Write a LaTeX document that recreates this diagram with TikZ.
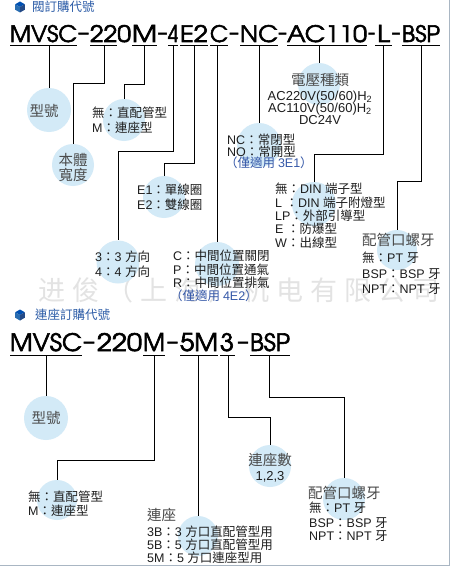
\documentclass[tikz,border=0pt]{standalone}
\usepackage{fontspec}
\usepackage{graphicx}
\setmainfont{Liberation Sans}
\newfontfamily\zhf{Noto Sans CJK TC}
\newfontfamily\wmf{Noto Sans CJK SC}
\IfFontExistsTF{texgyreadventor-regular.otf}
  {\newfontfamily\codefont[FakeBold=2.5]{texgyreadventor-regular.otf}}
  {\newfontfamily\codefont{Poppins}}
\newcommand\zh[1]{{\zhf #1}}
\newcommand\wsp{\hspace{7pt}}
\definecolor{cblue}{HTML}{D3EAF7}
\definecolor{txtc}{HTML}{1E1E1E}
\definecolor{ttlc}{HTML}{4A4A4A}
\definecolor{blu}{HTML}{3558A8}
\definecolor{hdr}{HTML}{2D5DA8}
\definecolor{bordc}{HTML}{A9B6C3}
\begin{document}
\begin{tikzpicture}[x=1pt,y=-1pt,
  seg/.style={anchor=base west, inner sep=0pt, outer sep=0pt},
  dsh/.style={anchor=base, inner sep=0pt, font=\codefont\fontsize{24}{24}\selectfont},
  uline/.style={line width=1pt, draw=black},
  conn/.style={line width=1pt, draw=black},
  bub/.style={circle, fill=cblue, draw=none, inner sep=0pt, minimum size=#1},
  bub/.default=43pt,
  lbl/.style={anchor=base west, inner sep=0pt, text=txtc, font=\fontsize{12.5}{14}\selectfont},
  ac/.style={anchor=base, inner sep=0pt, text=txtc, font=\fontsize{13}{14}\selectfont},
  ttl/.style={anchor=base, inner sep=0pt, text=ttlc, font=\zhf\fontsize{14.5}{16}\selectfont},
  ttlw/.style={ttl, anchor=base west},
  hdrtxt/.style={anchor=base west, inner sep=0pt, text=hdr, font=\zhf\fontsize{12.5}{14}\selectfont},
  wm/.style={anchor=base west, inner sep=0pt, text=black!11, font=\wmf\fontsize{27}{28}\selectfont},
]
\useasboundingbox (0,0) rectangle (455,567);
\fill[white] (0,0) rectangle (455,567);

% watermark
\node[wm] (wm) at (38,300) {进\wsp 俊\wsp （\wsp 上\wsp 海\wsp ）\wsp 机\wsp 电\wsp 有\wsp 限\wsp 公\wsp 司};

% border
\draw[bordc, line width=1pt] (449,0) -- (449,565.5) -- (0,565.5);

% header icons
\foreach \cy/\nm in {7/i1, 315/i2} {
  \fill[blue!55!cyan!70!black] (20,\cy-5.5) -- (24.8,\cy-2.75) -- (20,\cy) -- (15.2,\cy-2.75) -- cycle;
  \fill[hdr!90!cyan] (15.2,\cy-2.75) -- (20,\cy) -- (20,\cy+5.5) -- (15.2,\cy+2.75) -- cycle;
  \fill[hdr!80!black] (20,\cy) -- (24.8,\cy-2.75) -- (24.8,\cy+2.75) -- (20,\cy+5.5) -- cycle;
}
\node[hdrtxt] (h1) at (32,11.5) {閥訂購代號};
\node[hdrtxt] (h2) at (35,319.5) {連座訂購代號};

% ---------- first code ----------
\node[seg] (s1a) at (10,42) {\resizebox{67pt}{17pt}{\codefont MVSC}};
\node[dsh] (d1a) at (83.5,40) {\scalebox{0.8}[1]{–}};
\node[seg] (s1b) at (90,42) {\resizebox{41pt}{17pt}{\codefont 220}};
\node[seg] (s1c) at (132,42) {\resizebox{25pt}{17pt}{\codefont M}};
\node[dsh] (d1b) at (162.5,40) {\scalebox{0.7}[1]{–}};
\node[seg] (s1d) at (168,42) {\resizebox{10pt}{17pt}{\codefont 4}};
\node[seg] (s1e) at (180,42) {\resizebox{28pt}{17pt}{\codefont E2}};
\node[seg] (s1f) at (210,42) {\resizebox{18pt}{17pt}{\codefont C}};
\node[dsh] (d1c) at (234,40) {\scalebox{0.7}[1]{–}};
\node[seg] (s1g) at (240,42) {\resizebox{38pt}{17pt}{\codefont NC}};
\node[dsh] (d1d) at (282.5,40) {\scalebox{0.6}[1]{–}};
\node[seg] (s1h) at (287,42) {\resizebox{80pt}{17pt}{\codefont AC110}};
\node[dsh] (d1e) at (371.5,40) {\scalebox{0.5}[1]{–}};
\node[seg] (s1i) at (377,42) {\resizebox{13pt}{17pt}{\codefont L}};
\node[dsh] (d1f) at (396,40) {\scalebox{0.6}[1]{–}};
\node[seg] (s1j) at (402,42) {\resizebox{38pt}{17pt}{\codefont BSP}};

\foreach \a/\b in {10/77, 90/117, 132/157, 168/178, 180/208, 210/228, 240/278, 287/367, 375/392, 402/440}
  \draw[uline] (\a,46) -- (\b,46);

\coordinate (t1) at (49,46);
\coordinate (t2) at (104,46);
\coordinate (t3) at (144,46);
\coordinate (t4) at (173,46);
\coordinate (t5) at (194,46);
\coordinate (t6) at (217,46);
\coordinate (t7) at (259,46);
\coordinate (t8) at (319,46);
\coordinate (t9) at (383,46);
\coordinate (t10) at (421,46);

% ---------- second code ----------
\node[seg] (s2a) at (10,351) {\resizebox{72pt}{18pt}{\codefont MVSC}};
\node[dsh] (d2a) at (89,349) {\scalebox{0.85}[1]{–}};
\node[seg] (s2b) at (97,351) {\resizebox{45pt}{18pt}{\codefont 220}};
\node[seg] (s2c) at (143,351) {\resizebox{22pt}{18pt}{\codefont M}};
\node[dsh] (d2b) at (172.5,349) {\scalebox{0.8}[1]{–}};
\node[seg] (s2d) at (180,351) {\resizebox{38pt}{18pt}{\codefont 5M}};
\node[seg] (s2e) at (220,351) {\resizebox{14pt}{18pt}{\codefont 3}};
\node[dsh] (d2c) at (243,349) {\scalebox{0.8}[1]{–}};
\node[seg] (s2f) at (250,351) {\resizebox{40pt}{18pt}{\codefont BSP}};

\foreach \a/\b in {10/82, 143/165, 180/218, 220/235, 250/290}
  \draw[uline] (\a,355) -- (\b,355);

\coordinate (u1) at (46,355);
\coordinate (u2) at (154,355);
\coordinate (u3) at (198,355);
\coordinate (u4) at (228,355);
\coordinate (u5) at (269,355);

% ---------- bubbles ----------
\node[bub=44pt] (c1) at (49,110) {};
\node[bub=42pt] (c2) at (73,165) {};
\node[bub=42pt] (c3) at (124,120) {};
\node[bub=43pt] (c4) at (118,262) {};
\node[bub=42pt] (c5) at (164,197) {};
\node[bub=44pt] (c6) at (217,264) {};
\node[bub=44pt] (c7) at (259,145) {};
\node[bub=42pt] (c8) at (319,84) {};
\node[bub=44pt] (c9) at (314,204) {};
\node[bub=40pt] (c10) at (397,250) {};
\node[bub=44pt] (c11) at (46,418) {};
\node[bub=40pt] (c12) at (57,500) {};
\node[bub=40pt] (c13) at (198,536) {};
\node[bub=42pt] (c14) at (270,466) {};
\node[bub=42pt] (c15) at (344,499) {};

% ---------- connectors ----------
\draw[conn] (t1) -- (c1);
\draw[conn] (t2) -- ++(0,38) -| (c2);
\draw[conn] (t3) -- ++(0,39) -| (c3);
\draw[conn] (t4) -- ++(0,105) -| (c4);
\draw[conn] (t5) -- ++(0,117) -| (c5);
\draw[conn] (t6) -- (c6);
\draw[conn] (t7) -- (c7);
\draw[conn] (t8) -- (c8);
\draw[conn] (t9) -- ++(0,108) -| (c9);
\draw[conn] (t10) -- ++(0,135) -| (c10);
\draw[conn] (u1) -- (c11);
\draw[conn] (u2) -- ++(0,105) -| (c12);
\draw[conn] (u3) -- (c13);
\draw[conn] (u4) -- ++(0,62) -| (c14);
\draw[conn] (u5) -- ++(0,42) -| (c15);

% ---------- texts, top ----------
\node[ttl] (k1) at (44,117) {型號};
\node[ttl] (k2a) at (73,165.5) {本體};
\node[ttl] (k2b) at (73,180.5) {寬度};
\node[lbl] (k3a) at (92,117.5) {\zh{無：直配管型}};
\node[lbl] (k3b) at (92,132.5) {M\zh{：連座型}};
\node[lbl] (k4a) at (95,261.5) {3\zh{：}3 \zh{方向}};
\node[lbl] (k4b) at (95,276.5) {4\zh{：}4 \zh{方向}};
\node[lbl] (k5a) at (137,194.5) {E1\zh{：單線圈}};
\node[lbl] (k5b) at (137,209.5) {E2\zh{：雙線圈}};
\node[lbl] (k6a) at (173,260.5) {C\zh{：中間位置關閉}};
\node[lbl] (k6b) at (173,274.5) {P\zh{：中間位置通氣}};
\node[lbl] (k6c) at (173,287.5) {R\zh{：中間位置排氣}};
\node[lbl, text=blu] (k6d) at (170,300.5) {\zh{（僅適用 }4E2\zh{）}};
\node[lbl] (k7a) at (227,144) {NC\zh{：常閉型}};
\node[lbl] (k7b) at (227,156) {NO\zh{：常開型}};
\node[lbl, text=blu] (k7c) at (225,167.5) {\zh{（僅適用 }3E1\zh{）}};
\node[ttl] (k8a) at (320,85.5) {電壓種類};
\node[ac] (k8b) at (320,100.5) {AC220V(50/60)H\textsubscript{2}};
\node[ac] (k8c) at (320,112.5) {AC110V(50/60)H\textsubscript{2}};
\node[ac] (k8d) at (320,124.5) {DC24V};
\node[lbl] (k9a) at (275,193.5) {\zh{無：}DIN \zh{端子型}};
\node[lbl] (k9b) at (275,207.5) {L \zh{：}DIN \zh{端子附燈型}};
\node[lbl] (k9c) at (275,220.5) {LP\zh{：外部引導型}};
\node[lbl] (k9d) at (275,233.5) {E \zh{：防爆型}};
\node[lbl] (k9e) at (275,247.5) {W\zh{：出線型}};
\node[ttlw] (k10a) at (362,245.5) {配管口螺牙};
\node[lbl] (k10b) at (362,262.5) {\zh{無：}PT \zh{牙}};
\node[lbl] (k10c) at (362,278.5) {BSP\zh{：}BSP \zh{牙}};
\node[lbl] (k10d) at (362,293.5) {NPT\zh{：}NPT \zh{牙}};

% ---------- texts, bottom ----------
\node[ttl] (b1) at (46,423) {型號};
\node[lbl] (b2a) at (28,501.5) {\zh{無：直配管型}};
\node[lbl] (b2b) at (28,515.5) {M\zh{：連座型}};
\node[ttlw] (b3a) at (147,520) {連座};
\node[lbl] (b3b) at (147,536.5) {3B\zh{：}3 \zh{方口直配管型用}};
\node[lbl] (b3c) at (147,549.5) {5B\zh{：}5 \zh{方口直配管型用}};
\node[lbl] (b3d) at (147,562) {5M\zh{：}5 \zh{方口連座型用}};
\node[ttl] (b4a) at (270,465.5) {連座數};
\node[ac] (b4b) at (270,480) {1,2,3};
\node[ttlw] (b5a) at (308,498.5) {配管口螺牙};
\node[lbl] (b5b) at (309,512.5) {\zh{無：}PT \zh{牙}};
\node[lbl] (b5c) at (309,527) {BSP\zh{：}BSP \zh{牙}};
\node[lbl] (b5d) at (309,540.5) {NPT\zh{：}NPT \zh{牙}};
\end{tikzpicture}
\end{document}
